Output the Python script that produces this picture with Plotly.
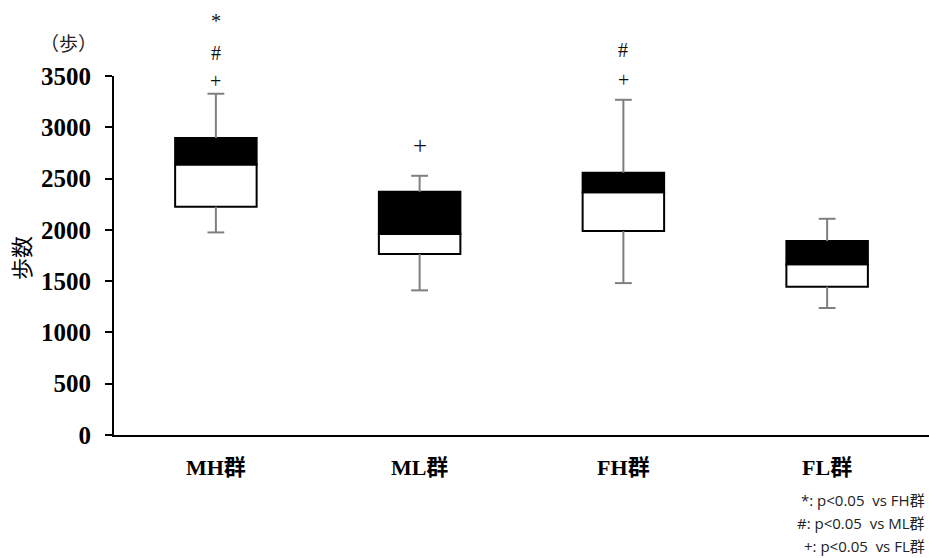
import plotly.graph_objects as go

groups = ["MH群", "ML群", "FH群", "FL群"]
lower = [1975, 1410, 1481, 1238]
q1 = [2225, 1764, 1988, 1446]
median = [2638, 1959, 2366, 1664]
q3 = [2895, 2371, 2557, 1891]
upper = [3327, 2527, 3268, 2108]

# significance marks: (group, symbol, y-value position)
sig_groups = ["MH群", "MH群", "MH群", "ML群", "FH群", "FH群"]
sig_symbols = ["+", "#", "*", "+", "+", "#"]
sig_y = [3455, 3725, 4040, 2820, 3460, 3755]
sig_size = [20, 20, 20, 25, 20, 20]

y_max = 3500
y_ticks = [0, 500, 1000, 1500, 2000, 2500, 3000, 3500]
notes = ["*: p<0.05  vs FH群", "#: p<0.05  vs ML群", "+: p<0.05  vs FL群"]

serif = "Liberation Serif, Noto Sans CJK JP"
W, H = 929, 558
ML_, MR_, MT_, MB_ = 114, 0, 76, 123
PW, PH = W - ML_ - MR_, H - MT_ - MB_


def px_x(px):
    return (px - ML_) / PW


def px_y(py):
    return (H - MB_ - py) / PH


fig = go.Figure()

fig.add_trace(go.Bar(x=groups, y=[m - a for m, a in zip(median, q1)], base=q1,
                     width=0.4, marker=dict(color="white", line=dict(color="black", width=2)),
                     showlegend=False))
fig.add_trace(go.Bar(x=groups, y=[b - m for b, m in zip(q3, median)], base=median,
                     width=0.4, marker=dict(color="black", line=dict(color="black", width=2)),
                     showlegend=False))

wx, wy = [], []
for g, lo, a, b, hi in zip(groups, lower, q1, q3, upper):
    wx += [g, g, None, g, g, None]
    wy += [lo, a, None, b, hi, None]
fig.add_trace(go.Scatter(x=wx, y=wy, mode="lines", line=dict(color="#7f7f7f", width=2),
                         showlegend=False, hoverinfo="skip"))
fig.add_trace(go.Scatter(x=groups + groups, y=lower + upper, mode="markers",
                         marker=dict(symbol="line-ew", size=12, line=dict(color="#7f7f7f", width=2)),
                         showlegend=False, hoverinfo="skip"))

for g, s, y, fs in zip(sig_groups, sig_symbols, sig_y, sig_size):
    fig.add_annotation(x=g, y=y / y_max, xref="x", yref="paper", text=s, showarrow=False,
                       xanchor="center", yanchor="middle",
                       font=dict(family=serif, size=fs, color="#111"))

for i, t in enumerate(notes):
    fig.add_annotation(x=px_x(927), xref="paper", xanchor="right", yanchor="middle",
                       y=px_y(500 + 23 * i), yref="paper",
                       text=t.replace("  ", " &nbsp;"), showarrow=False,
                       font=dict(family="Open Sans, Noto Sans CJK JP", size=15, color="#222"))

fig.add_annotation(x=px_x(68), y=px_y(42), xref="paper", yref="paper", text="（歩）",
                   xanchor="center", yanchor="middle",
                   showarrow=False, font=dict(family="Noto Sans CJK JP", size=19, color="#222"))

fig.add_annotation(x=px_x(20), y=px_y(258), xref="paper", yref="paper", text="歩数",
                   xanchor="center", yanchor="middle",
                   textangle=-90, showarrow=False,
                   font=dict(family="Noto Sans CJK JP", size=22, color="black"))

fig.update_layout(
    width=W, height=H,
    margin=dict(l=ML_, r=MR_, t=MT_, b=MB_, autoexpand=False),
    paper_bgcolor="white", plot_bgcolor="white",
    barmode="overlay",
    xaxis=dict(showline=True, linecolor="black", linewidth=2, ticks="",
               tickfont=dict(family=serif, size=22, color="black", weight="bold"),
               ticklabelstandoff=12,
               showgrid=False, zeroline=False, fixedrange=True, automargin=False),
    yaxis=dict(range=[0, y_max], tickvals=y_ticks, showline=True, linecolor="black", linewidth=2,
               ticks="outside", ticklen=7, tickwidth=2, tickcolor="black",
               tickfont=dict(family=serif, size=25, color="black", weight="bold"),
               ticklabelstandoff=9, showgrid=False, zeroline=False, automargin=False,
               fixedrange=True),
)

fig.write_html("out.html", config={"displayModeBar": False},
               post_script="document.body.style.margin='0';")
